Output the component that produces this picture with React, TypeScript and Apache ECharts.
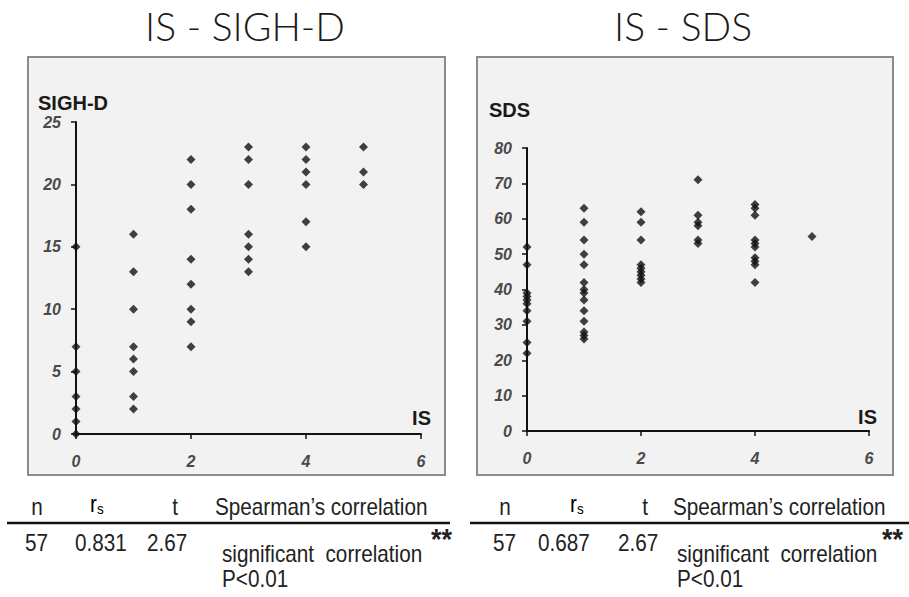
import React, { useEffect, useRef } from "react";
import * as echarts from "echarts";

// ---- data ----
const panelTitles = ["IS - SIGH-D", "IS - SDS"];
const yNames = ["SIGH-D", "SDS"];
const xName = "IS";
const isLevels = [0, 1, 2, 3, 4, 5];
const sighdByIS = [
  [0, 1, 2, 3, 5, 7, 15],
  [2, 3, 5, 6, 7, 10, 13, 16],
  [7, 9, 10, 12, 14, 18, 20, 22],
  [13, 14, 15, 16, 20, 22, 23],
  [15, 17, 20, 21, 22, 23],
  [20, 21, 23],
];
const sdsByIS = [
  [22, 25, 31, 34, 36, 37, 38, 39, 47, 52],
  [26, 27, 28, 31, 34, 37, 39, 40, 42, 47, 50, 54, 59, 63],
  [42, 43, 44, 45, 46, 47, 54, 59, 62],
  [53, 54, 58, 59, 61, 71],
  [42, 47, 48, 49, 52, 53, 54, 61, 63, 64],
  [55],
];
const tableHeader = ["n", "r", "s", "t", "Spearman\u2019s correlation"];
const nValues = ["57", "57"];
const rsValues = ["0.831", "0.687"];
const tValues = ["2.67", "2.67"];
const noteLine1 = "significant  correlation";
const noteMark = "**";
const noteLine2 = "P<0.01";

const toPoints = (cols: number[][]) =>
  cols.flatMap((vals, i) => vals.map((v) => [isLevels[i], v]));

const FONT = "Liberation Sans, Arial, sans-serif";

const axisLabelStyle = {
  fontFamily: FONT,
  fontStyle: "italic" as const,
  fontWeight: "bold" as const,
  fontSize: 16,
  color: "#4a4a4a",
};

function tableGraphics(p: {
  idx: number;
  n: number; r: number; t: number; sp: number;
  l0: number; l1: number;
  v57: number; vrs: number; vt: number; sig: number; star: number;
}) {
  const base = { fill: "#222", fontFamily: FONT, fontSize: 23 };
  const yH = 507, yR = 543;
  const txt = (text: string, x: number, y: number, align: string, extra: any = {}) => ({
    type: "text",
    x, y, scaleX: 0.9,
    style: { ...base, text, textAlign: align, textVerticalAlign: "middle", ...extra },
  });
  return [
    txt(tableHeader[0], p.n, yH, "center"),
    {
      type: "text", x: p.r, y: yH + 9, scaleX: 0.9,
      style: {
        text: `{a|${tableHeader[1]}}{b|${tableHeader[2]}}`,
        textAlign: "left", textVerticalAlign: "bottom",
        rich: {
          a: { fontFamily: FONT, fontSize: 23, color: "#222", verticalAlign: "bottom" },
          b: { fontFamily: FONT, fontSize: 15, color: "#222", verticalAlign: "bottom" },
        },
      },
    },
    txt(tableHeader[3], p.t, yH, "center"),
    txt(tableHeader[4], p.sp, yH, "left"),
    {
      type: "line",
      shape: { x1: p.l0, y1: 523, x2: p.l1, y2: 523 },
      style: { stroke: "#111", lineWidth: 2.5 },
    },
    txt(nValues[p.idx], p.v57, yR, "left"),
    txt(rsValues[p.idx], p.vrs, yR, "left"),
    txt(tValues[p.idx], p.vt, yR, "left"),
    txt(noteLine1, p.sig, 554, "left"),
    txt(noteMark, p.star, 538, "left", { fontSize: 30, fontWeight: "bold" }),
    txt(noteLine2, p.sig, 579, "left"),
  ];
}

function buildOption() {
  const boxes = [
    { x: 28, y: 57, w: 417, h: 418 },
    { x: 477, y: 57, w: 416, h: 418 },
  ];
  const graphics: any[] = [];
  boxes.forEach((b) => {
    graphics.push({
      type: "rect",
      z: -10,
      shape: { x: b.x, y: b.y, width: b.w, height: b.h },
      style: { fill: "#f2f2f2", stroke: "#8c8c8c", lineWidth: 2 },
    });
  });
  const titleCenters = [245, 683];
  titleCenters.forEach((cx, i) => {
    graphics.push({
      type: "text",
      x: cx, y: 26,
      style: {
        text: panelTitles[i],
        fontFamily: "Lato, Liberation Sans, sans-serif",
        fontWeight: 300,
        fontSize: 39,
        fill: "#1a1a1a",
        textAlign: "center",
        textVerticalAlign: "middle",
      },
    });
  });
  // axis names
  const nameStyle = { fontFamily: FONT, fontWeight: "bold", fontSize: 20, fill: "#1a1a1a", textVerticalAlign: "middle" };
  graphics.push({ type: "text", x: 38, y: 103, style: { ...nameStyle, text: yNames[0], textAlign: "left" } });
  graphics.push({ type: "text", x: 489, y: 110, style: { ...nameStyle, text: yNames[1], textAlign: "left" } });
  graphics.push({ type: "text", x: 431, y: 418, style: { ...nameStyle, text: xName, textAlign: "right" } });
  graphics.push({ type: "text", x: 877, y: 417, style: { ...nameStyle, text: xName, textAlign: "right" } });

  graphics.push(
    ...tableGraphics({ idx: 0, n: 37, r: 90, t: 175, sp: 215, l0: 7, l1: 450, v57: 25, vrs: 75, vt: 147, sig: 222, star: 431 }),
    ...tableGraphics({ idx: 1, n: 505, r: 570, t: 645, sp: 673, l0: 470, l1: 909, v57: 493, vrs: 538, vt: 618, sig: 677, star: 882 })
  );

  const axisCommon = {
    type: "value" as const,
    axisLine: { show: true, onZero: false, lineStyle: { color: "#111", width: 2 } },
    axisTick: { show: true, inside: false, length: 5, lineStyle: { color: "#111", width: 1.5 } },
    splitLine: { show: false },
  };

  return {
    animation: false,
    backgroundColor: "#ffffff",
    grid: [
      { left: 76, top: 122, width: 345, height: 312 },
      { left: 527, top: 148, width: 342, height: 283 },
    ],
    xAxis: [0, 1].map((g) => ({
      ...axisCommon,
      gridIndex: g,
      min: 0,
      max: 6,
      interval: 2,
      axisLabel: { ...axisLabelStyle, margin: 19 },
    })),
    yAxis: [
      { ...axisCommon, gridIndex: 0, min: 0, max: 25, interval: 5, axisLabel: { ...axisLabelStyle, margin: 15 } },
      { ...axisCommon, gridIndex: 1, min: 0, max: 80, interval: 10, axisLabel: { ...axisLabelStyle, margin: 15 } },
    ],
    series: [
      {
        type: "scatter",
        xAxisIndex: 0,
        yAxisIndex: 0,
        symbol: "diamond",
        symbolSize: 9,
        itemStyle: { color: "#111" },
        data: toPoints(sighdByIS),
      },
      {
        type: "scatter",
        xAxisIndex: 1,
        yAxisIndex: 1,
        symbol: "diamond",
        symbolSize: 9,
        itemStyle: { color: "#111" },
        data: toPoints(sdsByIS),
      },
    ],
    graphic: { elements: graphics },
  };
}

export default function App() {
  const ref = useRef<HTMLDivElement>(null);
  useEffect(() => {
    if (!ref.current) return;
    const chart = echarts.init(ref.current, null, { renderer: "svg" });
    chart.setOption(buildOption() as any);
    return () => chart.dispose();
  }, []);
  return (
    <div
      ref={ref}
      style={{ position: "absolute", left: 0, top: 0, width: 909, height: 597 }}
    />
  );
}
